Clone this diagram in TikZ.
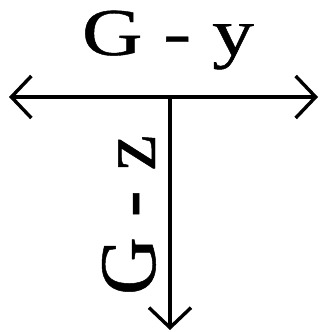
\documentclass[tikz,border=0pt]{standalone}
\usepackage{fontspec}
\setmainfont{Liberation Serif}
\newfontfamily\heavyserif{Liberation Serif}[FakeBold=0.6]
\usetikzlibrary{arrows.meta}
\begin{document}
\begin{tikzpicture}[x=1pt,y=1pt,
  axis/.style={line width=3.4pt, arrows={-Straight Barb[length=20pt,width=42pt,line width=3.4pt]}},
  biaxis/.style={line width=3.4pt, arrows={Straight Barb[length=20pt,width=42pt,line width=3.4pt]-Straight Barb[length=20pt,width=42pt,line width=3.4pt]}},
  lbl/.style={inner sep=0pt, anchor=base}]
\useasboundingbox (0,0) rectangle (322,332);
\coordinate (L) at (9,235);
\coordinate (R) at (318,235);
\coordinate (T) at (170,235);
\coordinate (B) at (170,2);
\draw[biaxis] (L) -- (R);
\draw[axis] (T) -- (B);
\node[lbl] (gy) at (168,277) {\heavyserif\fontsize{67}{72}\selectfont\scalebox{1.25}[1]{G - y}};
\node[lbl, rotate=90] (gz) at (155,117) {\heavyserif\fontsize{80}{90}\selectfont G - z};
\end{tikzpicture}
\end{document}
